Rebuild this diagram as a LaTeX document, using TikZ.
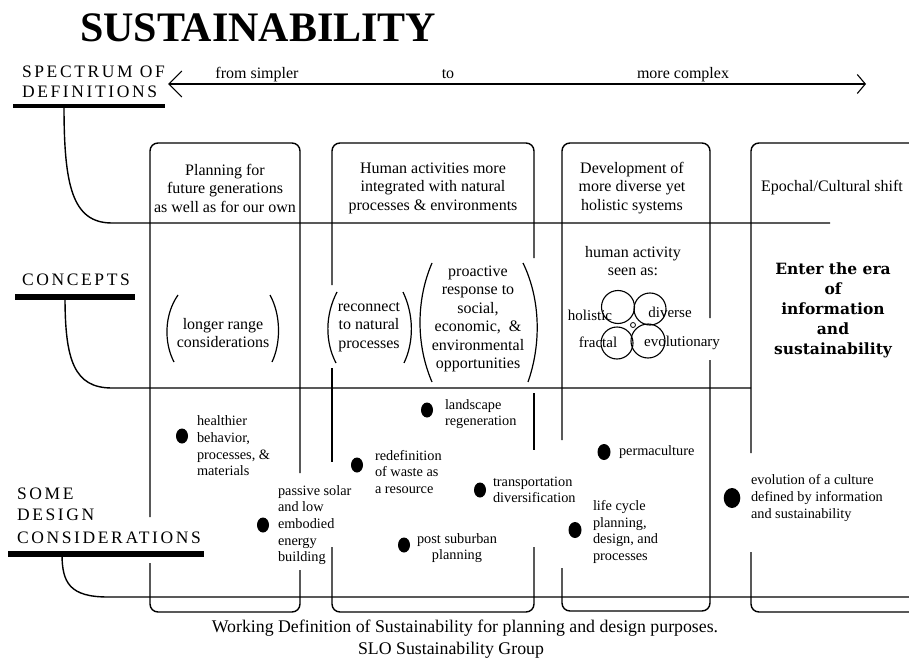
\documentclass[tikz,border=0pt]{standalone}
\usepackage{fontspec}
\setmainfont{Liberation Serif}
\newfontfamily\slabfont{DejaVu Serif}
\newfontfamily\capsfont{Liberation Serif}[LetterSpace=15]
\usetikzlibrary{arrows.meta}

\begin{document}
\begin{tikzpicture}[x=1pt,y=-1pt,
  every node/.style={inner sep=0pt, outer sep=0pt},
  frame/.style={line width=1.4pt, rounded corners=8pt},
  rule/.style={line width=1.4pt},
  bar/.style={line width=#1},
  paren/.style={line width=1.2pt},
  ring/.style={line width=1.1pt},
  headtext/.style={align=center, font=\fontsize{16}{18.5}\selectfont},
  conceptext/.style={align=center, font=\fontsize{16}{18.5}\selectfont},
  circletext/.style={font=\fontsize{15}{17}\selectfont},
  itemtext/.style={align=left, anchor=west, font=\fontsize{14.3}{16.6}\selectfont},
  rowlabel/.style={anchor=base west, font=\capsfont\fontsize{17.5}{20}\selectfont},
  bullet/.style={fill=black},
]
\useasboundingbox[fill=white] (0,0) rectangle (909,660);

% Title
\node[anchor=base west, font=\bfseries\fontsize{42}{42}\selectfont] (title) at (80,42) {SUSTAINABILITY};

% Row labels with their underlines
\node[rowlabel] (spec1) at (22,78) {SPECTRUM OF};
\node[rowlabel] (spec2) at (22,98) {DEFINITIONS};
\node[rowlabel] (conc) at (22,285) {CONCEPTS};
\node[rowlabel] (des1) at (17,499) {SOME};
\node[rowlabel] (des2) at (17,520) {DESIGN};
\node[rowlabel] (des3) at (17,543) {CONSIDERATIONS};
\draw[bar=4pt] (13,106) -- (165,106);
\draw[bar=6pt] (15,297) -- (135,297);
\draw[bar=6pt] (8,554) -- (204,554);

% Spectrum arrow
\coordinate (simple) at (168,84);
\coordinate (complex) at (866,84);
\draw[line width=1.1pt, {Straight Barb[length=13pt,width=26pt]}-{Straight Barb[length=8pt,width=19pt]}] (simple) -- (complex);
\node[anchor=base, font=\fontsize{16}{18}\selectfont] (from) at (257,79) {from simpler};
\node[anchor=base, font=\fontsize{16}{18}\selectfont] (to) at (448,79) {to};
\node[anchor=base, font=\fontsize{16}{18}\selectfont] (more) at (683,79) {more complex};

% Row dividers curving out of the underlines
\draw[rule] (64,106) .. controls (64,185) and (72,223) .. (112,223) -- (830,223);
\draw[rule] (65,297) .. controls (65,360) and (74,388) .. (112,388) -- (751,388);
\draw[rule] (62,554) .. controls (62,583) and (70,597) .. (108,597) -- (909,597);

% Column frames, broken where text crosses their edges
\draw[frame] (150,517) |- (300,143) -- (300,473);
\draw[frame] (150,563) |- (300,612) -- (300,570);

\draw[frame] (332,285) |- (534,143) -- (534,258);
\draw[frame] (332,368) -- (332,462);
\draw[frame] (534,393) -- (534,450);
\draw[frame] (332,547) |- (534,612) -- (534,547);

\draw[frame] (562,440) |- (710,143) -- (710,318);
\draw[frame] (562,568) |- (710,611) -- (710,360);

\draw[frame] (909,143) -| (751,453);
\draw[frame] (751,552) |- (909,612);

% Column headings
\node[headtext] (h1) at (225,188) {Planning for\\future generations\\as well as for our own};
\node[headtext] (h2) at (433,188) {Human activities more\\integrated with natural\\processes \& environments};
\node[headtext] (h3) at (632,188) {Development of\\more diverse yet\\holistic systems};
\node[headtext] (h4) at (832,188) {Epochal/Cultural shift};

% Concepts
\node[conceptext] (c1) at (223,333) {longer range\\considerations};
\draw[paren] (178,295) .. controls (164,315) and (164,343) .. (174,362);
\draw[paren] (270,295) .. controls (281,315) and (281,343) .. (272,362);

\node[conceptext] (c2) at (369,327) {reconnect\\to natural\\processes};
\draw[paren] (337,292) .. controls (325,315) and (325,342) .. (336,363);
\draw[paren] (403,292) .. controls (414,315) and (414,342) .. (404,363);

\node[conceptext] (c3) at (478,319) {proactive\\response to\\social,\\economic,\enspace\&\\environmental\\opportunities};
\draw[paren] (432,263) .. controls (416,300) and (416,345) .. (432,382);
\draw[paren] (523,263) .. controls (541,300) and (541,345) .. (528,382);

\node[conceptext] (c4) at (633,261) {human activity\\seen as:};
\draw[ring] (618,307) circle[radius=16.5];
\draw[ring] (650,309) circle[radius=16];
\draw[ring] (617,343) circle[radius=16];
\draw[ring] (648,341) circle[radius=17];
\draw[line width=0.8pt] (633,325) circle[radius=2.5];
\node[circletext] (holistic) at (590,315) {holistic};
\node[circletext] (diverse) at (670,312) {diverse};
\node[circletext] (fractal) at (598,342) {fractal};
\node[circletext] (evol) at (682,343) {evolutionary};

\node[align=center, font=\slabfont\bfseries\fontsize{15.5}{20}\selectfont] (c5) at (833,310)
  {Enter the era\\of\\information\\and\\sustainability};

% Design considerations
\fill[bullet] (182,436) ellipse[x radius=6, y radius=7.5];
\node[itemtext] (d1) at (197,446) {healthier\\behavior,\\processes, \&\\materials};

\fill[bullet] (263,525) ellipse[x radius=6, y radius=7.5];
\node[itemtext] (d2) at (278,525) {passive solar\\and low\\embodied\\energy\\building};

\fill[bullet] (357,465) ellipse[x radius=6, y radius=7.5];
\node[itemtext] (d3) at (375,472) {redefinition\\of waste as\\a resource};

\fill[bullet] (427,410) ellipse[x radius=6, y radius=7.5];
\node[itemtext] (d4) at (445,414) {landscape\\regeneration};

\fill[bullet] (480,490) ellipse[x radius=6, y radius=7.5];
\node[itemtext] (d5) at (493,490) {transportation\\diversification};

\fill[bullet] (404,545) ellipse[x radius=6, y radius=7.5];
\node[align=center, font=\fontsize{14.3}{16.6}\selectfont] (d6) at (457,548) {post suburban\\planning};

\fill[bullet] (604,452) ellipse[x radius=6.5, y radius=8];
\node[itemtext] (d7) at (619,452) {permaculture};

\fill[bullet] (575,530) ellipse[x radius=6.5, y radius=8];
\node[itemtext] (d8) at (593,532) {life cycle\\planning,\\design, and\\processes};

\fill[bullet] (732,498) ellipse[x radius=8.3, y radius=10];
\node[itemtext] (d9) at (751,498) {evolution of a culture\\defined by information\\and sustainability};

% Caption
\node[font=\fontsize{17.8}{20}\selectfont] (cap1) at (465,628) {Working Definition of Sustainability for planning and design purposes.};
\node[font=\fontsize{17.8}{20}\selectfont] (cap2) at (451,650) {SLO Sustainability Group};
\end{tikzpicture}
\end{document}
